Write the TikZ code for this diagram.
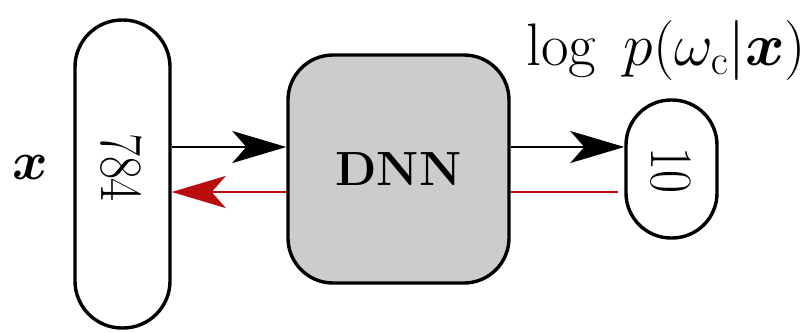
\RequirePackage{fix-cm}
\documentclass[tikz,border=0pt]{standalone}
\usepackage{amsmath,amssymb,bm}
\usetikzlibrary{arrows.meta,calc}
\definecolor{dnngray}{RGB}{204,204,204}
\definecolor{backred}{RGB}{185,12,12}
\tikzset{
  pill/.style={draw, line width=3.4pt, rounded corners=#1, inner sep=0pt},
  fwd/.style={line width=2.7pt, -{Stealth[length=54pt,width=32pt,inset=14pt]}},
  bwd/.style={line width=2.7pt, draw=backred, -{Stealth[length=54pt,width=32pt,inset=14pt,fill=backred]}},
  bigfont/.style={font=\fontsize{48}{58}\selectfont},
  numfont/.style={font=\fontsize{50}{60}\selectfont}
}
\begin{document}
\begin{tikzpicture}[x=1pt,y=-1pt]
\useasboundingbox (0,0) rectangle (810,332);
\node[pill=47pt, minimum width=95pt, minimum height=308pt] (L) at (122.5,174) {};
\node[numfont, inner sep=0pt] (Lt) at (121,167.5) {\rotatebox{-90}{\scalebox{1}[1.2]{784}}};
\node[pill=45pt, fill=dnngray, minimum width=221pt, minimum height=228pt, bigfont] (D) at (398.5,169) {\textbf{DNN}};
\node[pill=45pt, minimum width=91pt, minimum height=138pt] (R) at (671.5,169) {};
\node[numfont, inner sep=0pt] (Rt) at (671,170) {\rotatebox{-90}{\scalebox{1}[1.2]{10}}};
\node[font=\fontsize{54}{64}\selectfont] (xl) at (30,167) {$\boldsymbol{x}$};
\node[font=\fontsize{60}{72}\selectfont, anchor=base] (lp) at (666,65) {$\log\; p(\omega_{\mathrm{c}}|\boldsymbol{x})$};
\coordinate (r1) at (0,147);
\coordinate (r2) at (0,192);
\draw[fwd] (L.east |- r1) -- (D.west |- r1);
\draw[bwd] (D.west |- r2) -- (L.east |- r2);
\draw[fwd] (D.east |- r1) -- (R.west |- r1);
\draw[line width=2.7pt, draw=backred, shorten >=6pt] (D.east |- r2) -- (R.west |- r2);
\end{tikzpicture}
\end{document}
